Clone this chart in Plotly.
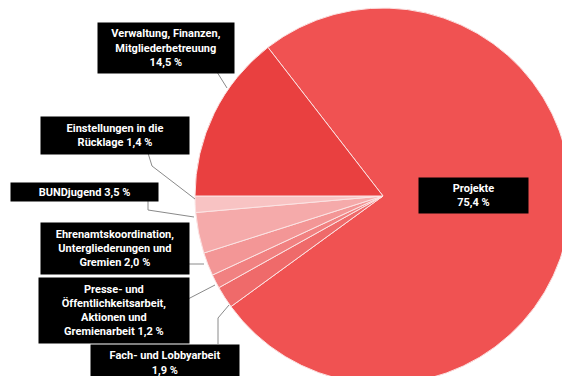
import plotly.graph_objects as go

# ---- data ----
categories = [
    "Projekte",
    "Fach- und Lobbyarbeit",
    "Presse- und Öffentlichkeitsarbeit, Aktionen und Gremienarbeit",
    "Ehrenamtskoordination, Untergliederungen und Gremien",
    "BUNDjugend",
    "Einstellungen in die Rücklage",
    "Verwaltung, Finanzen, Mitgliederbetreuung",
]
values = [75.4, 1.9, 1.2, 2.0, 3.5, 1.4, 14.5]
colors = ["#f05252", "#ef6a6a", "#f18181", "#f39696", "#f5aaaa", "#f8c3c3", "#e94040"]
# label text (name wrapped as in the original, percentage appended)
label_prefix = [
    "Projekte<br>",
    "Fach- und Lobbyarbeit<br>",
    "Presse- und<br>Öffentlichkeitsarbeit,<br>Aktionen und<br>Gremienarbeit ",
    "Ehrenamtskoordination,<br>Untergliederungen und<br>Gremien ",
    "BUNDjugend ",
    "Einstellungen in die<br>Rücklage ",
    "Verwaltung, Finanzen,<br>Mitgliederbetreuung<br>",
]

# ---- layout geometry (pixels) ----
W, H = 575, 390
CX, CY, R = 383, 196, 188

def fx(x):
    return x / W

def fy(y):
    return 1 - y / H

# label boxes: (left, top, width, height)
boxes = [
    (418, 177, 109, 35),
    (90, 344, 148, 36),
    (38, 277, 150, 65),
    (40, 222, 148, 51),
    (10, 182, 147, 18),
    (40, 116, 148, 37),
    (97, 22, 136, 50),
]
leaders = [
    None,
    [(218, 344), (218, 318), (229, 305)],
    [(188, 299), (215, 285)],
    [(188, 264), (204, 264)],
    [(148, 200), (148, 210), (194, 217)],
    [(148, 153), (152, 166), (195, 199)],
    [(217, 72), (227, 88)],
]

total = sum(values)
rotation = 270 + 360 * values[-1] / total

fig = go.Figure(
    go.Pie(
        labels=categories,
        values=values,
        sort=False,
        direction="clockwise",
        rotation=rotation,
        marker=dict(colors=colors, line=dict(color="#fbe3e3", width=1)),
        textinfo="none",
        hoverinfo="skip",
        showlegend=False,
        domain=dict(x=[fx(CX - R), fx(CX + R)], y=[fy(CY + R), fy(CY - R)]),
    )
)

def fmt(v):
    return f"{v:.1f}".replace(".", ",") + " %"

annotations = []
shapes = []
for i, (b, pre) in enumerate(zip(boxes, label_prefix)):
    left, top, w, h = b
    annotations.append(
        dict(
            x=fx(left), y=fy(top), xref="paper", yref="paper",
            xanchor="left", yanchor="top",
            width=w, height=h, borderpad=0,
            text=pre + fmt(values[i]),
            showarrow=False, align="center", valign="middle",
            bgcolor="#000000",
            font=dict(family="Roboto", size=11, color="#ffffff", weight="bold"),
        )
    )
    if leaders[i]:
        pts = leaders[i]
        path = "M " + " L ".join(f"{fx(x)},{fy(y)}" for x, y in pts)
        shapes.append(
            dict(type="path", path=path, xref="paper", yref="paper",
                 line=dict(color="#8a8a8a", width=1))
        )

fig.update_layout(
    width=W, height=H,
    margin=dict(l=0, r=0, t=0, b=0),
    paper_bgcolor="#ffffff",
    plot_bgcolor="#ffffff",
    annotations=annotations,
    shapes=shapes,
)

fig.write_html(
    "out.html",
    config={"displayModeBar": False},
    post_script="document.documentElement.style.overflow='hidden';document.body.style.overflow='hidden';document.body.style.margin='0';",
)
